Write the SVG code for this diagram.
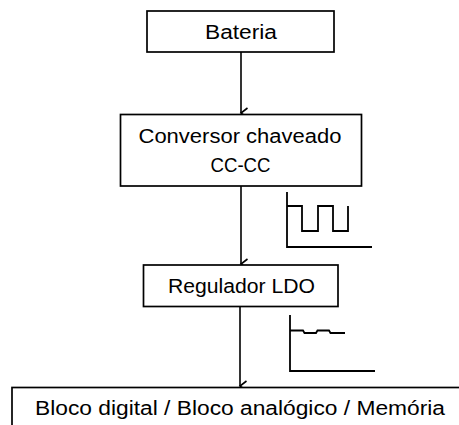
<svg xmlns="http://www.w3.org/2000/svg" width="459" height="425" viewBox="0 0 459 425">
<style>
.box{fill:#fff;stroke:#000;stroke-width:1.7}
.t{font-family:"Liberation Sans",Arial,sans-serif;font-size:20px;fill:#000;text-anchor:middle}
.c{fill:none;stroke:#000;stroke-width:1.6}
.w{fill:none;stroke:#000;stroke-width:1.8}
</style>
<defs>
<marker id="ah" markerWidth="12" markerHeight="12" refX="6" refY="10" orient="auto" markerUnits="userSpaceOnUse" viewBox="0 0 12 12">
<path d="M1,3.5 L6,10 L11,3.5" fill="none" stroke="#000" stroke-width="1.6"/>
</marker>
</defs>
<g id="connectors">
<line class="c" x1="241" y1="52" x2="241" y2="113" marker-end="url(#ah)"/>
<line class="c" x1="241" y1="186" x2="241" y2="264" marker-end="url(#ah)"/>
<line class="c" x1="240" y1="307" x2="240" y2="386" marker-end="url(#ah)"/>
</g>
<g id="bateria">
<rect class="box" x="147" y="11" width="187" height="41"/>
<text class="t" x="241" y="38.5" textLength="72" lengthAdjust="spacingAndGlyphs">Bateria</text>
</g>
<g id="conversor">
<rect class="box" x="120.5" y="114.5" width="241" height="71.5"/>
<text class="t" x="240" y="142.5" textLength="203" lengthAdjust="spacingAndGlyphs">Conversor chaveado</text>
<text class="t" x="240.5" y="171.5" textLength="60" lengthAdjust="spacingAndGlyphs">CC-CC</text>
</g>
<g id="regulador">
<rect class="box" x="143.5" y="265" width="194.5" height="41.5"/>
<text class="t" x="241.5" y="293" textLength="147" lengthAdjust="spacingAndGlyphs">Regulador LDO</text>
</g>
<g id="bloco">
<rect class="box" x="12" y="387.5" width="448" height="45"/>
<text class="t" x="240" y="414.5" textLength="410" lengthAdjust="spacingAndGlyphs">Bloco digital / Bloco analógico / Memória</text>
</g>
<g id="waveform-switching">
<polyline class="w" points="287,192 287,247 372,247"/>
<polyline class="w" points="287,206 302,206 302,231 318,231 318,206 333,206 333,231 348,231 348,206"/>
</g>
<g id="waveform-ldo">
<polyline class="w" points="290,315 290,371 375,371"/>
<polyline class="w" points="290,330.5 303,330.5 304.5,333 316,333 317.5,330.5 329,330.5 330.5,333 345,333"/>
</g>
</svg>
